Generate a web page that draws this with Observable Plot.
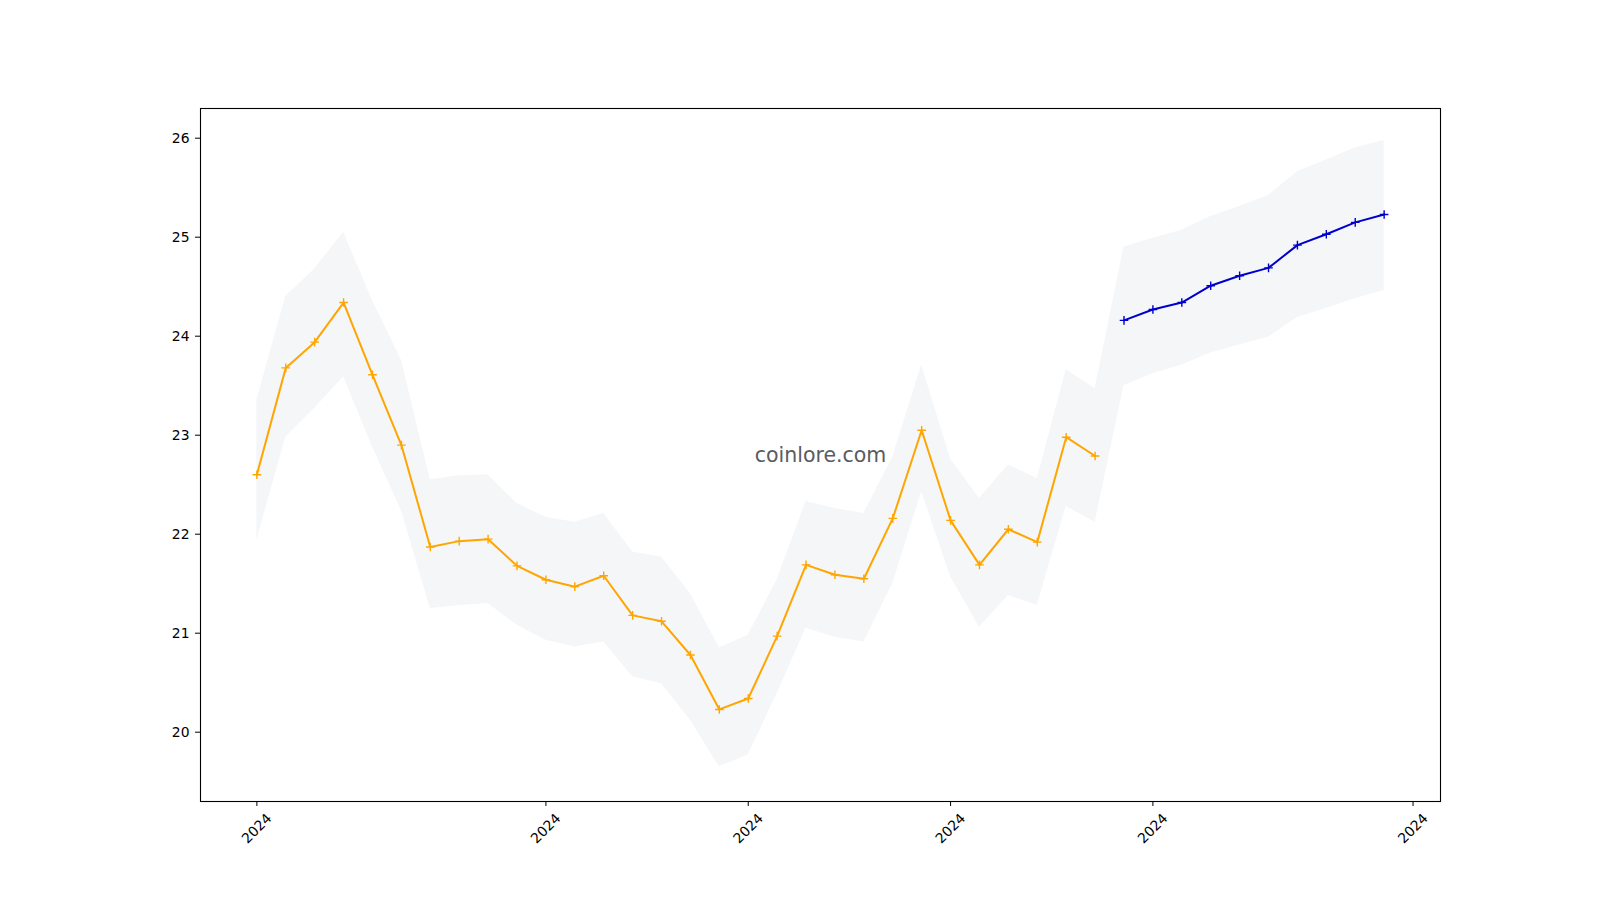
<!DOCTYPE html>
<html>
<head>
<meta charset="utf-8">
<script src="https://cdn.jsdelivr.net/npm/d3@7"></script>
<script src="https://cdn.jsdelivr.net/npm/@observablehq/plot@0.6"></script>
<style>
  html, body { margin: 0; padding: 0; background: #ffffff; }
  #chart svg { display: block; }
</style>
</head>
<body>
<div id="chart"></div>
<script>
// ---- Data ----
const actualIdx = [0,1,2,3,4,5,6,7,8,9,10,11,12,13,14,15,16,17,18,19,20,21,22,23,24,25,26,27,28,29];
const actualValues = [22.60, 23.68, 23.94, 24.34, 23.61, 22.90, 21.87, 21.93, 21.95, 21.68,
                      21.54, 21.47, 21.58, 21.18, 21.12, 20.78, 20.23, 20.34, 20.97, 21.69,
                      21.59, 21.55, 22.16, 23.05, 22.14, 21.69, 22.05, 21.92, 22.98, 22.79];

const forecastIdx = [30,31,32,33,34,35,36,37,38,39];
const forecastValues = [24.16, 24.27, 24.34, 24.51, 24.61, 24.69, 24.92, 25.03, 25.15, 25.23];

const bandIdx = [0,1,2,3,4,5,6,7,8,9,10,11,12,13,14,15,16,17,18,19,
                 20,21,22,23,24,25,26,27,28,29,30,31,32,33,34,35,36,37,38,39];
const bandLower = [21.94, 22.98, 23.27, 23.59, 22.88, 22.24, 21.25, 21.28, 21.30, 21.08,
                   20.93, 20.86, 20.91, 20.56, 20.49, 20.12, 19.65, 19.77, 20.39, 21.05,
                   20.96, 20.91, 21.50, 22.43, 21.57, 21.06, 21.38, 21.28, 22.28, 22.12,
                   23.50, 23.62, 23.71, 23.83, 23.91, 23.99, 24.19, 24.28, 24.38, 24.46];
const bandUpper = [23.35, 24.40, 24.68, 25.05, 24.36, 23.76, 22.55, 22.59, 22.60, 22.31,
                   22.17, 22.12, 22.21, 21.82, 21.77, 21.40, 20.85, 20.98, 21.54, 22.33,
                   22.26, 22.21, 22.78, 23.71, 22.76, 22.36, 22.70, 22.56, 23.66, 23.47,
                   24.90, 24.99, 25.07, 25.21, 25.31, 25.42, 25.66, 25.78, 25.90, 25.98];

const xTicks = [0, 10, 17, 24, 31, 40];
const xTickLabels = ["2024", "2024", "2024", "2024", "2024", "2024"];
const yTicks = [20, 21, 22, 23, 24, 25, 26];
const watermark = ["coinlore.com"];

// thin "+" marker like matplotlib
const thinPlus = {
  draw(ctx, size) {
    const r = Math.sqrt(size / Math.PI);
    ctx.moveTo(-r, 0); ctx.lineTo(r, 0);
    ctx.moveTo(0, -r); ctx.lineTo(0, r);
  }
};

const actual = actualIdx.map((x, i) => ({x, y: actualValues[i]}));
const forecast = forecastIdx.map((x, i) => ({x, y: forecastValues[i]}));
const band = bandIdx.map((x, i) => ({x, lo: bandLower[i], hi: bandUpper[i]}));

const chart = Plot.plot({
  width: 1600,
  height: 900,
  marginLeft: 200,
  marginRight: 160,
  marginTop: 108,
  marginBottom: 99,
  style: {fontFamily: "'DejaVu Sans', sans-serif", fontSize: "14px", color: "black", background: "white"},
  x: {type: "linear", domain: [-1.95, 40.95]},
  y: {type: "linear", domain: [19.30, 26.30]},
  marks: [
    Plot.areaY(band, {x: "x", y1: "lo", y2: "hi", fill: "#f5f6f8", curve: "linear"}),
    Plot.text(watermark, {frameAnchor: "middle", text: d => d, fontSize: 20.5, fill: "#5a5b5f", dy: 0}),
    Plot.line(actual, {x: "x", y: "y", stroke: "#ffa500", strokeWidth: 2}),
    Plot.dot(actual, {x: "x", y: "y", symbol: thinPlus, r: 4.3, stroke: "#ffa500", strokeWidth: 1.4, fill: "none"}),
    Plot.line(forecast, {x: "x", y: "y", stroke: "#0000cd", strokeWidth: 2}),
    Plot.dot(forecast, {x: "x", y: "y", symbol: thinPlus, r: 4.3, stroke: "#0000cd", strokeWidth: 1.4, fill: "none"}),
    Plot.axisY(yTicks, {tickSize: 5, tickPadding: 6, fontSize: 13.9, label: null, tickFormat: d => String(d)}),
    Plot.axisX(xTicks, {tickSize: 5, tickRotate: -45, textAnchor: "middle", lineAnchor: "middle",
                        tickPadding: 22, fontSize: 13.9, label: null,
                        tickFormat: d => xTickLabels[xTicks.indexOf(d)]}),
    Plot.frame({stroke: "black", strokeWidth: 1.1})
  ]
});

document.getElementById("chart").appendChild(chart);
</script>
</body>
</html>
